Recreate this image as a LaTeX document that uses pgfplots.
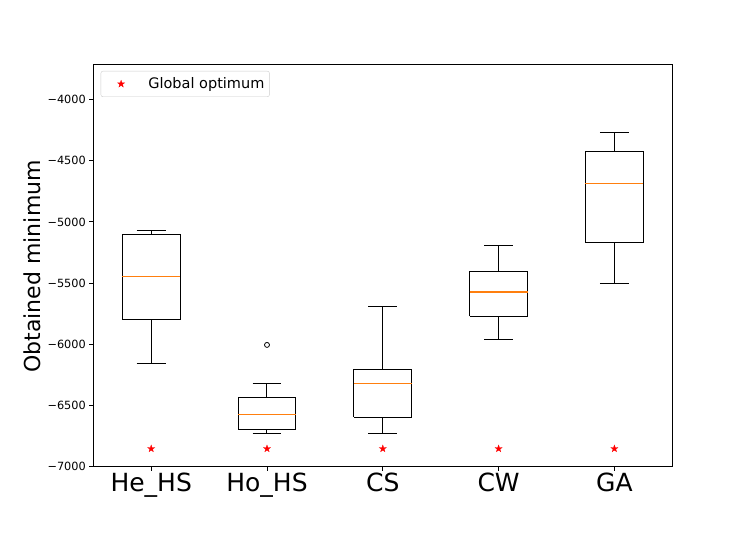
\documentclass[border=0pt]{standalone}
\usepackage{fontspec}
\setmainfont{DejaVu Sans}
\usepackage{pgfplots}
\pgfplotsset{compat=1.18}

\definecolor{mplorange}{HTML}{FF7F0E}

\newdimen\starin
% filled five-pointed star (matplotlib '*')
\pgfdeclareplotmark{fstar}{%
  \starin=0.4\pgfplotmarksize
  \pgfpathmoveto{\pgfqpointpolar{90}{\pgfplotmarksize}}%
  \pgfpathlineto{\pgfqpointpolar{126}{\starin}}%
  \pgfpathlineto{\pgfqpointpolar{162}{\pgfplotmarksize}}%
  \pgfpathlineto{\pgfqpointpolar{198}{\starin}}%
  \pgfpathlineto{\pgfqpointpolar{234}{\pgfplotmarksize}}%
  \pgfpathlineto{\pgfqpointpolar{270}{\starin}}%
  \pgfpathlineto{\pgfqpointpolar{306}{\pgfplotmarksize}}%
  \pgfpathlineto{\pgfqpointpolar{342}{\starin}}%
  \pgfpathlineto{\pgfqpointpolar{18}{\pgfplotmarksize}}%
  \pgfpathlineto{\pgfqpointpolar{54}{\starin}}%
  \pgfpathclose
  \pgfusepathqfillstroke}

\begin{document}
\begin{tikzpicture}
\useasboundingbox (0,0) rectangle (747pt,534pt);
\begin{axis}[
  at={(93.3pt,67.3pt)}, anchor=south west,
  scale only axis, width=579pt, height=402.7pt,
  xmin=0.5, xmax=5.5, ymin=-7000, ymax=-3710,
  xtick={1,2,3,4,5},
  xticklabels={He\_HS,Ho\_HS,CS,CW,GA},
  ytick={-7000,-6500,-6000,-5500,-5000,-4500,-4000},
  yticklabels={−7000,−6500,−6000,−5500,−5000,−4500,−4000},
  tick align=outside, major tick length=4pt,
  tick style={black, line width=0.8pt},
  axis line style={line width=0.8pt},
  xtick pos=bottom, ytick pos=left,
  xticklabel style={font=\fontsize{25}{25}\selectfont, inner sep=2.5pt},
  yticklabel style={font=\fontsize{11.3}{12}\selectfont},
  ylabel={Obtained minimum},
  ylabel style={font=\fontsize{22}{22}\selectfont, xshift=-1pt},
  unbounded coords=jump,
  legend style={at={(0.0128,0.9826)}, anchor=north west,
    draw=black!20, rounded corners=2pt, inner ysep=4.5pt,
    font=\fontsize{14.5}{15}\selectfont},
  legend cell align=left,
  legend image code/.code={%
    \path (0pt,0pt) (42pt,0pt);
    \draw[#1] plot coordinates {(17pt,0pt)};},
]
% boxes: quartile box, whiskers and caps (nan = break)
% He_HS: whiskers -6153/-5072, quartiles -5796/-5107
\addplot[black, line width=1pt, forget plot] coordinates {
  (0.75,-5796) (1.25,-5796) (1.25,-5107) (0.75,-5107) (0.75,-5796) (1,nan)
  (1,-5796) (1,-6153) (1,nan) (0.875,-6153) (1.125,-6153) (1,nan)
  (1,-5107) (1,-5072) (1,nan) (0.875,-5072) (1.125,-5072)};
% Ho_HS: whiskers -6725/-6322, quartiles -6694/-6433
\addplot[black, line width=1pt, forget plot] coordinates {
  (1.75,-6694) (2.25,-6694) (2.25,-6433) (1.75,-6433) (1.75,-6694) (2,nan)
  (2,-6694) (2,-6725) (2,nan) (1.875,-6725) (2.125,-6725) (2,nan)
  (2,-6433) (2,-6322) (2,nan) (1.875,-6322) (2.125,-6322)};
% CS: whiskers -6725/-5695, quartiles -6596/-6208
\addplot[black, line width=1pt, forget plot] coordinates {
  (2.75,-6596) (3.25,-6596) (3.25,-6208) (2.75,-6208) (2.75,-6596) (3,nan)
  (3,-6596) (3,-6725) (3,nan) (2.875,-6725) (3.125,-6725) (3,nan)
  (3,-6208) (3,-5695) (3,nan) (2.875,-5695) (3.125,-5695)};
% CW: whiskers -5957/-5194, quartiles -5770/-5404
\addplot[black, line width=1pt, forget plot] coordinates {
  (3.75,-5770) (4.25,-5770) (4.25,-5404) (3.75,-5404) (3.75,-5770) (4,nan)
  (4,-5770) (4,-5957) (4,nan) (3.875,-5957) (4.125,-5957) (4,nan)
  (4,-5404) (4,-5194) (4,nan) (3.875,-5194) (4.125,-5194)};
% GA: whiskers -5505/-4271, quartiles -5170/-4426
\addplot[black, line width=1pt, forget plot] coordinates {
  (4.75,-5170) (5.25,-5170) (5.25,-4426) (4.75,-4426) (4.75,-5170) (5,nan)
  (5,-5170) (5,-5505) (5,nan) (4.875,-5505) (5.125,-5505) (5,nan)
  (5,-4426) (5,-4271) (5,nan) (4.875,-4271) (5.125,-4271)};
% medians
\addplot[mplorange, line width=1.1pt, forget plot] coordinates {
  (0.75,-5444) (1.25,-5444) (1,nan)
  (1.75,-6572) (2.25,-6572) (2,nan)
  (2.75,-6324) (3.25,-6324) (3,nan)
  (3.75,-5573) (4.25,-5573) (4,nan)
  (4.75,-4685) (5.25,-4685)};
% outlier of Ho_HS
\addplot[only marks, mark=o, mark size=2.5pt, black, line width=0.8pt, forget plot]
  coordinates {(2,-6005)};
% global optimum
\addplot[only marks, mark=fstar, mark size=3.7pt, draw=red, fill=red,
  mark options={line width=0.3pt}] coordinates {
  (1,-6853) (2,-6853) (3,-6853) (4,-6853) (5,-6853)};
\addlegendentry{Global optimum}
\end{axis}
\end{tikzpicture}
\end{document}
